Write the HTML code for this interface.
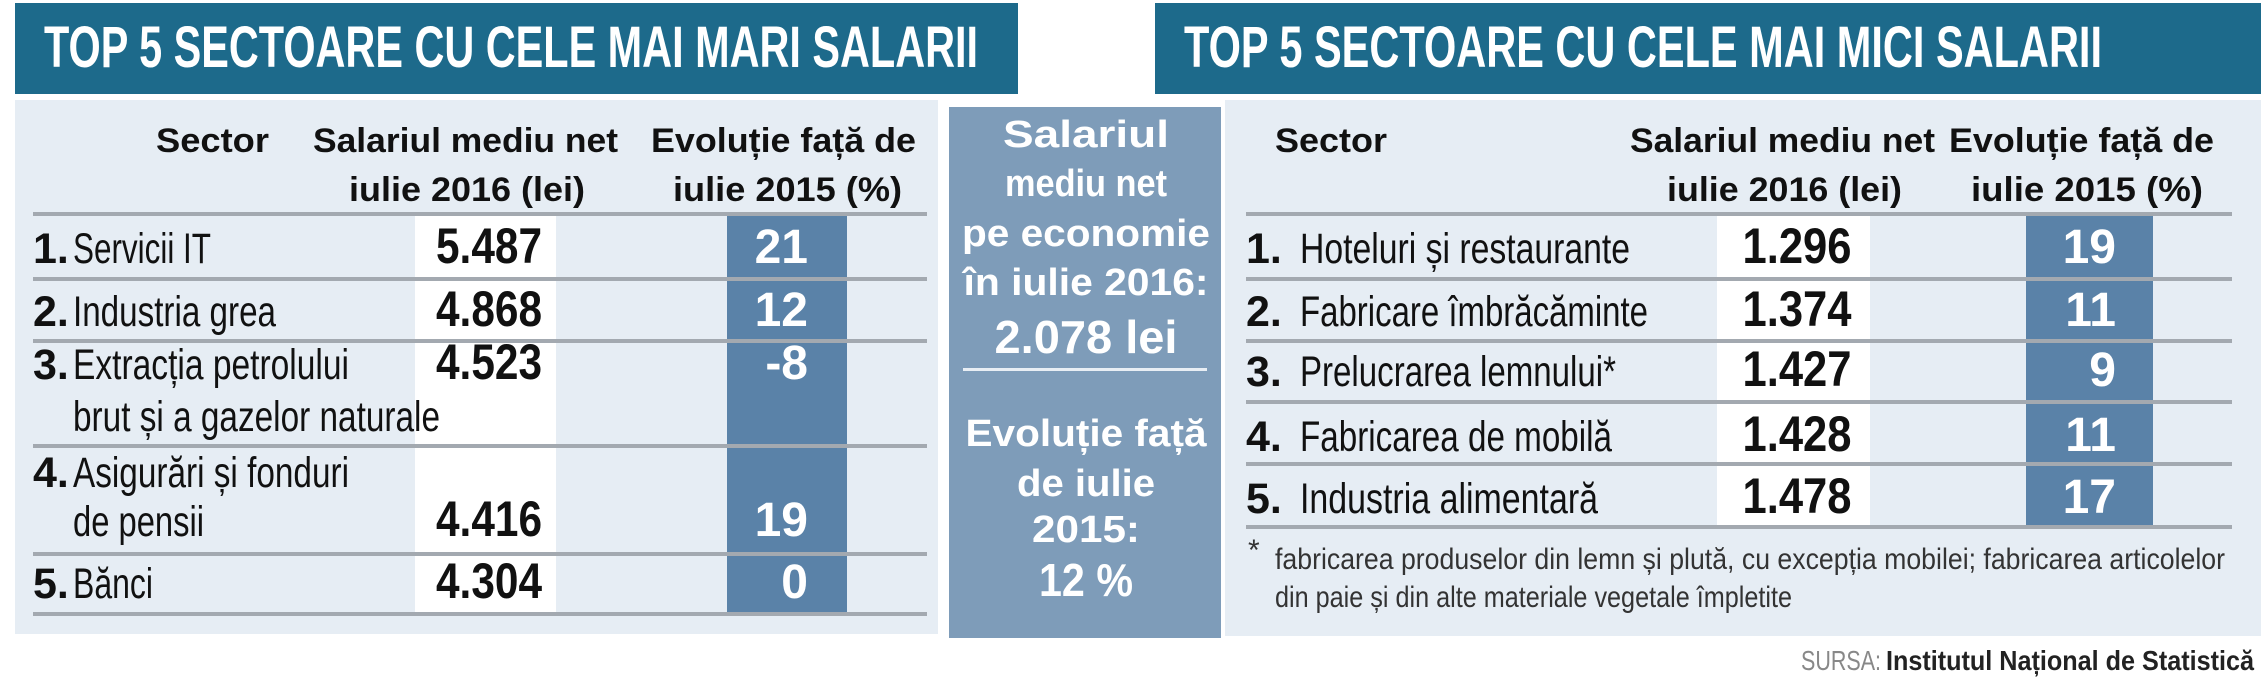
<!DOCTYPE html>
<html><head><meta charset="utf-8"><style>
html,body{margin:0;padding:0;background:#fff;width:2267px;height:700px;overflow:hidden}
svg text{font-family:"Liberation Sans Narrow","Liberation Sans",sans-serif}
</style></head><body>
<svg id="chart" width="2267" height="700" viewBox="0 0 2267 700" xmlns="http://www.w3.org/2000/svg">
<rect x="15" y="3" width="1003" height="91" fill="#1d6a8b"/>
<rect x="1155" y="3" width="1106" height="91" fill="#1d6a8b"/>
<rect x="15" y="100" width="923" height="534" fill="#e6edf4"/>
<rect x="1225" y="100" width="1036" height="536" fill="#e6edf4"/>
<rect x="949" y="107" width="272" height="531" fill="#7e9cb9"/>
<g id="g"></g>
</svg>
<script>
const topSectors=[["Servicii IT"],["Industria grea"],["Extracția petrolului","brut și a gazelor naturale"],["Asigurări și fonduri","de pensii"],["Bănci"]];
const topSalaries=["5.487","4.868","4.523","4.416","4.304"];
const topChanges=["21","12","-8","19","0"];
const lowSectors=["Hoteluri și restaurante","Fabricare îmbrăcăminte","Prelucrarea lemnului*","Fabricarea de mobilă","Industria alimentară"];
const lowSalaries=["1.296","1.374","1.427","1.428","1.478"];
const lowChanges=["19","11","9","11","17"];
const avgSalary="2.078 lei";
const avgChange="12 %";

const NS="http://www.w3.org/2000/svg";
const g=document.getElementById('g');
function T(str,x,y,size,opt){
  opt=opt||{};
  const t=document.createElementNS(NS,'text');
  
  
  t.setAttribute('x',x);t.setAttribute('y',y);
  t.setAttribute('font-size',size);
  t.setAttribute('fill',opt.fill||'#111');
  if(opt.bold)t.setAttribute('font-weight','bold');
  if(opt.anchor)t.setAttribute('text-anchor',opt.anchor);
  if(opt.len){t.setAttribute('textLength',opt.len);t.setAttribute('lengthAdjust','spacingAndGlyphs');}
  t.textContent=str;g.appendChild(t);return t;
}
function R(x,y,w,h,fill,name){
  const r=document.createElementNS(NS,'rect');
  
  
  r.setAttribute('x',x);r.setAttribute('y',y);r.setAttribute('width',w);r.setAttribute('height',h);r.setAttribute('fill',fill);
  g.appendChild(r);
}
T("TOP 5 SECTOARE CU CELE MAI MARI SALARII",44,67,58,{bold:1,fill:'#fff',len:934,name:'left-title'});
T("TOP 5 SECTOARE CU CELE MAI MICI SALARII",1184,67,58,{bold:1,fill:'#fff',len:918,name:'right-title'});

R(415,214,141,400,'#fff','left-salary-column');
R(727,214,120,400,'#5a82a8','left-change-column');
[214,279,341,446,554,614].forEach(y=>R(33,y-2,894,4,'#a3a9b0','left-row-divider'));
T("Sector",156,152,34,{bold:1,len:113,name:'left-header-sector'});
T("Salariul mediu net",313,152,34,{bold:1,len:305,name:'left-header-salary'});
T("Evoluție față de",651,152,34,{bold:1,len:265,name:'left-header-change'});
T("iulie 2016 (lei)",349,201,34,{bold:1,len:236,name:'left-header-salary'});
T("iulie 2015 (%)",673,201,34,{bold:1,len:229,name:'left-header-change'});
const lBase=[[263],[326],[379,431],[487,536],[598]];
const lLens=[[138],[203],[276,367],[276,131],[80]];
const lValY=[263,326,379,536,598];
topSectors.forEach((s,i)=>{
  T((i+1)+".",33,lBase[i][0],43,{bold:1,name:'left-rank'});
  s.forEach((line,j)=>T(line,73,lBase[i][j],43,{len:lLens[i][j],name:'left-sector-name'}));
  T(topSalaries[i],489,lValY[i],50,{bold:1,anchor:'middle',len:106,name:'left-salary-value'});
  T(topChanges[i],808,lValY[i],48,{bold:1,anchor:'end',fill:'#fff',name:'left-change-value'});
});

const mid=[["Salariul",147,166],["mediu net",196,162],["pe economie",246,248],["în iulie 2016:",295,245]];
mid.forEach(m=>T(m[0],1086,m[1],38,{bold:1,anchor:'middle',fill:'#fff',len:m[2],name:'average-label'}));
T(avgSalary,1086,353,46,{bold:1,anchor:'middle',fill:'#fff',len:183,name:'average-salary'});
R(963,368,244,3,'#e8eef4','average-divider');
const mid2=[["Evoluție față",446,241],["de iulie",496,138],["2015:",542,108]];
mid2.forEach(m=>T(m[0],1086,m[1],38,{bold:1,anchor:'middle',fill:'#fff',len:m[2],name:'average-change-label'}));
T(avgChange,1086,596,46,{bold:1,anchor:'middle',fill:'#fff',len:94,name:'average-change'});

R(1717,214,153,313,'#fff','right-salary-column');
R(2026,214,127,313,'#5a82a8','right-change-column');
[214,279,341,402,464,527].forEach(y=>R(1246,y-2,986,4,'#a3a9b0','right-row-divider'));
T("Sector",1275,152,34,{bold:1,len:112,name:'right-header-sector'});
T("Salariul mediu net",1630,152,34,{bold:1,len:305,name:'right-header-salary'});
T("Evoluție față de",1949,152,34,{bold:1,len:265,name:'right-header-change'});
T("iulie 2016 (lei)",1667,201,34,{bold:1,len:235,name:'right-header-salary'});
T("iulie 2015 (%)",1971,201,34,{bold:1,len:232,name:'right-header-change'});
const rBase=[263,326,386,451,513];
const rLens=[330,348,316,312,298];
lowSectors.forEach((s,i)=>{
  T((i+1)+".",1246,rBase[i],43,{bold:1,name:'right-rank'});
  T(s,1300,rBase[i],43,{len:rLens[i],name:'right-sector-name'});
  T(lowSalaries[i],1797,rBase[i],50,{bold:1,anchor:'middle',len:109,name:'right-salary-value'});
  T(lowChanges[i],2116,rBase[i],48,{bold:1,anchor:'end',fill:'#fff',name:'right-change-value'});
});
T("*",1248,560,30,{fill:'#333',name:'footnote-marker'});
T("fabricarea produselor din lemn și plută, cu excepția mobilei; fabricarea articolelor",1275,569,30,{fill:'#333',len:950,name:'footnote'});
T("din paie și din alte materiale vegetale împletite",1275,607,30,{fill:'#333',len:517,name:'footnote'});
T("SURSA:",1801,670,28,{fill:'#888',len:80,name:'source-label'});
T("Institutul Național de Statistică",1886,670,28,{bold:1,fill:'#222',len:368,name:'source-name'});
</script>
</body></html>
